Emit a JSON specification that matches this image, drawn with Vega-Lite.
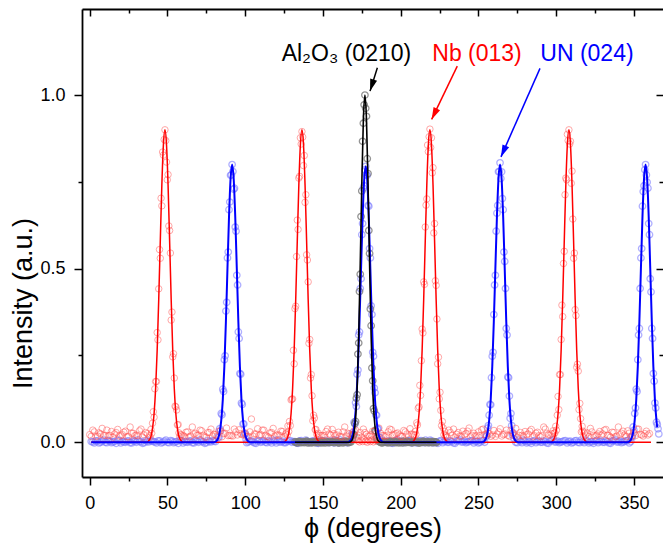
{
"$schema": "https://vega.github.io/schema/vega-lite/v6.json",
"width": 581,
"height": 468,
"autosize": {"type": "none"},
"padding": {"left": 82, "top": 9, "right": 0, "bottom": 72},
"background": "white",
"config": {
  "font": "Liberation Sans",
  "view": {"stroke": null},
  "axis": {"grid": false, "domainColor": "black", "tickColor": "black", "labelColor": "black", "titleColor": "black", "labelFontSize": 18, "titleFontSize": 27, "titleFontWeight": "normal", "labelFont": "Liberation Sans", "titleFont": "Liberation Sans", "domainWidth": 1.8, "tickWidth": 1.5, "labelPadding": 9, "labelOverlap": false, "labelFlush": false}
},
"datasets": {
  "nb": [
    {"x":0,"y":0.022},{"x":2,"y":0.035},{"x":4,"y":0.017},{"x":6,"y":0.027},{"x":8,"y":0.04},{"x":10,"y":0.02},{"x":12,"y":0.019},{"x":14,"y":0.031},{"x":16,"y":0.024},{"x":18,"y":0.037},{"x":20,"y":0.019},{"x":22,"y":0.029},{"x":24,"y":0.016},{"x":26,"y":0.044},{"x":28,"y":0.026},{"x":30,"y":0.021},{"x":32,"y":0.033},{"x":34,"y":0.015},{"x":36,"y":0.028},
    {"x":1,"y":0.017},{"x":3,"y":0.03},{"x":5,"y":0.018},{"x":7,"y":0.024},{"x":9,"y":0.02},{"x":11,"y":0.035},{"x":13,"y":0.02},{"x":15,"y":0.015},{"x":17,"y":0.028},{"x":19,"y":0.018},{"x":21,"y":0.022},{"x":23,"y":0.032},{"x":25,"y":0.016},{"x":27,"y":0.026},{"x":29,"y":0.019},{"x":31,"y":0.019},{"x":33,"y":0.038},{"x":35,"y":0.021},{"x":37,"y":0.025},
    {"x":38.4,"y":0.019},{"x":38.9,"y":0.015},{"x":39.4,"y":0.037},{"x":39.9,"y":0.026},{"x":40.4,"y":0.055},{"x":40.9,"y":0.088},{"x":41.4,"y":0.072},{"x":41.9,"y":0.154},{"x":42.4,"y":0.175},{"x":42.9,"y":0.175},{"x":43.4,"y":0.316},{"x":43.9,"y":0.295},{"x":44.4,"y":0.442},{"x":44.9,"y":0.555},{"x":45.4,"y":0.53},{"x":45.9,"y":0.703},{"x":46.4,"y":0.681},{"x":46.9,"y":0.836},{"x":47.4,"y":0.827},{"x":47.9,"y":0.872},{"x":48.4,"y":0.9},{"x":48.9,"y":0.869},{"x":49.4,"y":0.807},{"x":49.9,"y":0.756},{"x":50.4,"y":0.771},{"x":50.9,"y":0.623},{"x":51.4,"y":0.61},{"x":51.9,"y":0.545},{"x":52.4,"y":0.352},{"x":52.9,"y":0.375},{"x":53.4,"y":0.246},{"x":53.9,"y":0.255},{"x":54.4,"y":0.185},{"x":54.9,"y":0.104},{"x":55.4,"y":0.102},{"x":55.9,"y":0.093},{"x":56.4,"y":0.05},{"x":56.9,"y":0.051},{"x":57.4,"y":0.027},{"x":57.9,"y":0.016},{"x":58.4,"y":0.022},
    {"x":60,"y":0.019},{"x":62,"y":0.029},{"x":64,"y":0.016},{"x":66,"y":0.044},{"x":68,"y":0.026},{"x":70,"y":0.021},{"x":72,"y":0.033},{"x":74,"y":0.015},{"x":76,"y":0.028},{"x":78,"y":0.038},{"x":80,"y":0.023},{"x":82,"y":0.018},{"x":84,"y":0.032},{"x":86,"y":0.025},{"x":88,"y":0.041},{"x":90,"y":0.02},{"x":92,"y":0.018},{"x":94,"y":0.03},{"x":96,"y":0.036},{"x":98,"y":0.022},{"x":100,"y":0.027},{"x":102,"y":0.017},{"x":104,"y":0.067},{"x":106,"y":0.024},{"x":108,"y":0.039},{"x":110,"y":0.022},{"x":112,"y":0.035},{"x":114,"y":0.017},{"x":116,"y":0.027},{"x":118,"y":0.04},{"x":120,"y":0.02},{"x":122,"y":0.02},{"x":124,"y":0.031},{"x":126,"y":0.024},
    {"x":59,"y":0.021},{"x":61,"y":0.017},{"x":63,"y":0.03},{"x":65,"y":0.018},{"x":67,"y":0.024},{"x":69,"y":0.02},{"x":71,"y":0.035},{"x":73,"y":0.02},{"x":75,"y":0.015},{"x":77,"y":0.028},{"x":79,"y":0.018},{"x":81,"y":0.022},{"x":83,"y":0.032},{"x":85,"y":0.016},{"x":87,"y":0.026},{"x":89,"y":0.019},{"x":91,"y":0.019},{"x":93,"y":0.038},{"x":95,"y":0.021},{"x":97,"y":0.025},{"x":99,"y":0.021},{"x":101,"y":0.017},{"x":103,"y":0.03},{"x":105,"y":0.018},{"x":107,"y":0.024},{"x":109,"y":0.02},{"x":111,"y":0.035},{"x":113,"y":0.02},{"x":115,"y":0.015},{"x":117,"y":0.028},{"x":119,"y":0.018},{"x":121,"y":0.022},{"x":123,"y":0.032},{"x":125,"y":0.016},
    {"x":126.5,"y":0.027},{"x":127,"y":0.021},{"x":127.5,"y":0.047},{"x":128,"y":0.031},{"x":128.5,"y":0.06},{"x":129,"y":0.048},{"x":129.5,"y":0.122},{"x":130,"y":0.124},{"x":130.5,"y":0.125},{"x":131,"y":0.265},{"x":131.5,"y":0.226},{"x":132,"y":0.385},{"x":132.5,"y":0.392},{"x":133,"y":0.535},{"x":133.5,"y":0.64},{"x":134,"y":0.613},{"x":134.5,"y":0.761},{"x":135,"y":0.766},{"x":135.5,"y":0.877},{"x":136,"y":0.859},{"x":136.5,"y":0.895},{"x":137,"y":0.879},{"x":137.5,"y":0.797},{"x":138,"y":0.826},{"x":138.5,"y":0.691},{"x":139,"y":0.713},{"x":139.5,"y":0.54},{"x":140,"y":0.525},{"x":140.5,"y":0.462},{"x":141,"y":0.285},{"x":141.5,"y":0.296},{"x":142,"y":0.185},{"x":142.5,"y":0.195},{"x":143,"y":0.134},{"x":143.5,"y":0.062},{"x":144,"y":0.078},{"x":144.5,"y":0.07},{"x":145,"y":0.036},{"x":145.5,"y":0.037},{"x":146,"y":0.023},{"x":146.5,"y":0.015},
    {"x":148,"y":0.02},{"x":150,"y":0.02},{"x":152,"y":0.031},{"x":154,"y":0.024},{"x":156,"y":0.037},{"x":158,"y":0.019},{"x":160,"y":0.029},{"x":162,"y":0.016},{"x":164,"y":0.044},{"x":166,"y":0.026},{"x":168,"y":0.021},{"x":170,"y":0.033},{"x":172,"y":0.015},{"x":174,"y":0.028},{"x":176,"y":0.038},{"x":178,"y":0.023},{"x":180,"y":0.018},{"x":182,"y":0.032},{"x":184,"y":0.025},{"x":186,"y":0.041},{"x":188,"y":0.02},{"x":190,"y":0.018},{"x":192,"y":0.03},{"x":194,"y":0.036},{"x":196,"y":0.022},{"x":198,"y":0.027},{"x":200,"y":0.017},{"x":202,"y":0.034},{"x":204,"y":0.024},{"x":206,"y":0.039},{"x":208,"y":0.022},
    {"x":147,"y":0.026},{"x":149,"y":0.019},{"x":151,"y":0.019},{"x":153,"y":0.038},{"x":155,"y":0.021},{"x":157,"y":0.025},{"x":159,"y":0.021},{"x":161,"y":0.017},{"x":163,"y":0.03},{"x":165,"y":0.018},{"x":167,"y":0.024},{"x":169,"y":0.02},{"x":171,"y":0.035},{"x":173,"y":0.02},{"x":175,"y":0.015},{"x":177,"y":0.028},{"x":179,"y":0.018},{"x":181,"y":0.022},{"x":183,"y":0.032},{"x":185,"y":0.016},{"x":187,"y":0.026},{"x":189,"y":0.019},{"x":191,"y":0.019},{"x":193,"y":0.038},{"x":195,"y":0.021},{"x":197,"y":0.025},{"x":199,"y":0.021},{"x":201,"y":0.017},{"x":203,"y":0.03},{"x":205,"y":0.018},{"x":207,"y":0.024},
    {"x":172.5,"y":0.004},{"x":173.5,"y":0.001},{"x":174.5,"y":0.006},{"x":175.5,"y":0.002},{"x":176.5,"y":0.008},{"x":177.5,"y":0.003},{"x":178.5,"y":0},{"x":179.5,"y":0.005},{"x":180.5,"y":0.002},{"x":181.5,"y":0.007},{"x":182.5,"y":0.001},{"x":183.5,"y":0.004},
    {"x":208.8,"y":0.02},{"x":209.3,"y":0.031},{"x":209.8,"y":0.022},{"x":210.3,"y":0.056},{"x":210.8,"y":0.05},{"x":211.3,"y":0.098},{"x":211.8,"y":0.102},{"x":212.3,"y":0.164},{"x":212.8,"y":0.135},{"x":213.3,"y":0.235},{"x":213.8,"y":0.326},{"x":214.3,"y":0.315},{"x":214.8,"y":0.462},{"x":215.3,"y":0.455},{"x":215.8,"y":0.62},{"x":216.3,"y":0.683},{"x":216.8,"y":0.701},{"x":217.3,"y":0.856},{"x":217.8,"y":0.837},{"x":218.3,"y":0.88},{"x":218.8,"y":0.902},{"x":219.3,"y":0.849},{"x":219.8,"y":0.877},{"x":220.3,"y":0.776},{"x":220.8,"y":0.791},{"x":221.3,"y":0.603},{"x":221.8,"y":0.63},{"x":222.3,"y":0.465},{"x":222.8,"y":0.452},{"x":223.3,"y":0.355},{"x":223.8,"y":0.226},{"x":224.3,"y":0.245},{"x":224.8,"y":0.125},{"x":225.3,"y":0.144},{"x":225.8,"y":0.092},{"x":226.3,"y":0.048},{"x":226.8,"y":0.06},{"x":227.3,"y":0.041},{"x":227.8,"y":0.022},{"x":228.3,"y":0.031},{"x":228.8,"y":0.017},
    {"x":230,"y":0.015},{"x":232,"y":0.028},{"x":234,"y":0.038},{"x":236,"y":0.023},{"x":238,"y":0.018},{"x":240,"y":0.032},{"x":242,"y":0.025},{"x":244,"y":0.041},{"x":246,"y":0.02},{"x":248,"y":0.018},{"x":250,"y":0.03},{"x":252,"y":0.036},{"x":254,"y":0.022},{"x":256,"y":0.027},{"x":258,"y":0.017},{"x":260,"y":0.034},{"x":262,"y":0.024},{"x":264,"y":0.039},{"x":266,"y":0.022},{"x":268,"y":0.035},{"x":270,"y":0.017},{"x":272,"y":0.027},{"x":274,"y":0.04},{"x":276,"y":0.02},{"x":278,"y":0.02},{"x":280,"y":0.031},{"x":282,"y":0.024},{"x":284,"y":0.037},{"x":286,"y":0.019},{"x":288,"y":0.029},{"x":290,"y":0.016},{"x":292,"y":0.044},{"x":294,"y":0.026},{"x":296,"y":0.021},{"x":298,"y":0.033},
    {"x":229,"y":0.02},{"x":231,"y":0.035},{"x":233,"y":0.02},{"x":235,"y":0.015},{"x":237,"y":0.028},{"x":239,"y":0.018},{"x":241,"y":0.022},{"x":243,"y":0.032},{"x":245,"y":0.016},{"x":247,"y":0.026},{"x":249,"y":0.019},{"x":251,"y":0.019},{"x":253,"y":0.038},{"x":255,"y":0.021},{"x":257,"y":0.025},{"x":259,"y":0.021},{"x":261,"y":0.017},{"x":263,"y":0.03},{"x":265,"y":0.018},{"x":267,"y":0.024},{"x":269,"y":0.02},{"x":271,"y":0.035},{"x":273,"y":0.02},{"x":275,"y":0.015},{"x":277,"y":0.028},{"x":279,"y":0.018},{"x":281,"y":0.022},{"x":283,"y":0.032},{"x":285,"y":0.016},{"x":287,"y":0.026},{"x":289,"y":0.019},{"x":291,"y":0.019},{"x":293,"y":0.038},{"x":295,"y":0.021},{"x":297,"y":0.025},
    {"x":298.2,"y":0.015},{"x":298.7,"y":0.026},{"x":299.2,"y":0.027},{"x":299.7,"y":0.046},{"x":300.2,"y":0.035},{"x":300.7,"y":0.078},{"x":301.2,"y":0.132},{"x":301.7,"y":0.094},{"x":302.2,"y":0.195},{"x":302.7,"y":0.195},{"x":303.2,"y":0.296},{"x":303.7,"y":0.395},{"x":304.2,"y":0.362},{"x":304.7,"y":0.515},{"x":305.2,"y":0.55},{"x":305.7,"y":0.713},{"x":306.2,"y":0.761},{"x":306.7,"y":0.756},{"x":307.2,"y":0.887},{"x":307.7,"y":0.869},{"x":308.2,"y":0.9},{"x":308.7,"y":0.859},{"x":309.2,"y":0.867},{"x":309.7,"y":0.746},{"x":310.2,"y":0.781},{"x":310.7,"y":0.643},{"x":311.2,"y":0.53},{"x":311.7,"y":0.545},{"x":312.2,"y":0.382},{"x":312.7,"y":0.365},{"x":313.2,"y":0.216},{"x":313.7,"y":0.225},{"x":314.2,"y":0.205},{"x":314.7,"y":0.094},{"x":315.2,"y":0.112},{"x":315.7,"y":0.068},{"x":316.2,"y":0.03},{"x":316.7,"y":0.046},{"x":317.2,"y":0.032},{"x":317.7,"y":0.016},{"x":318.2,"y":0.027},
    {"x":320,"y":0.027},{"x":322,"y":0.04},{"x":324,"y":0.02},{"x":326,"y":0.02},{"x":328,"y":0.031},{"x":330,"y":0.024},{"x":332,"y":0.037},{"x":334,"y":0.019},{"x":336,"y":0.029},{"x":338,"y":0.016},{"x":340,"y":0.044},{"x":342,"y":0.026},{"x":344,"y":0.021},{"x":346,"y":0.033},{"x":348,"y":0.015},{"x":350,"y":0.028},{"x":352,"y":0.038},{"x":354,"y":0.023},{"x":356,"y":0.018},{"x":358,"y":0.032},{"x":360,"y":0.025},
    {"x":319,"y":0.021},{"x":321,"y":0.017},{"x":323,"y":0.03},{"x":325,"y":0.018},{"x":327,"y":0.024},{"x":329,"y":0.02},{"x":331,"y":0.035},{"x":333,"y":0.02},{"x":335,"y":0.015},{"x":337,"y":0.028},{"x":339,"y":0.018},{"x":341,"y":0.022},{"x":343,"y":0.032},{"x":345,"y":0.016},{"x":347,"y":0.026},{"x":349,"y":0.019},{"x":351,"y":0.019},{"x":353,"y":0.038},{"x":355,"y":0.021},{"x":357,"y":0.025},{"x":359,"y":0.021}
  ],
  "un": [
    {"x":1,"y":0.002},{"x":3,"y":-0.002},{"x":5,"y":0.004},{"x":7,"y":0},{"x":9,"y":0.006},{"x":11,"y":-0.001},{"x":13,"y":0.003},{"x":15,"y":0.001},{"x":17,"y":-0.003},{"x":19,"y":0.005},{"x":21,"y":0.002},{"x":23,"y":0},{"x":25,"y":0.004},{"x":27,"y":-0.002},{"x":29,"y":0.003},{"x":31,"y":0.007},{"x":33,"y":0.001},{"x":35,"y":-0.001},{"x":37,"y":0.002},{"x":39,"y":0.005},{"x":41,"y":0.002},{"x":43,"y":-0.002},{"x":45,"y":0.004},{"x":47,"y":0},{"x":49,"y":0.006},{"x":51,"y":-0.001},{"x":53,"y":0.003},{"x":55,"y":0.001},{"x":57,"y":-0.003},{"x":59,"y":0.005},{"x":61,"y":0.002},{"x":63,"y":0},{"x":65,"y":0.004},{"x":67,"y":-0.002},{"x":69,"y":0.003},{"x":71,"y":0.007},{"x":73,"y":0.001},{"x":75,"y":-0.001},{"x":77,"y":0.002},{"x":79,"y":0.005},{"x":81,"y":0.002},
    {"x":2,"y":0.001},{"x":4,"y":0.004},{"x":6,"y":-0.002},{"x":8,"y":0.003},{"x":10,"y":0},{"x":12,"y":0.005},{"x":14,"y":-0.001},{"x":16,"y":0.002},{"x":18,"y":0.006},{"x":20,"y":-0.002},{"x":22,"y":0.001},{"x":24,"y":0.003},{"x":26,"y":-0.001},{"x":28,"y":0.004},{"x":30,"y":0},{"x":32,"y":0.002},{"x":34,"y":-0.003},{"x":36,"y":0.005},{"x":38,"y":0.001},{"x":40,"y":0.003},{"x":42,"y":0.001},{"x":44,"y":0.004},{"x":46,"y":-0.002},{"x":48,"y":0.003},{"x":50,"y":0},{"x":52,"y":0.005},{"x":54,"y":-0.001},{"x":56,"y":0.002},{"x":58,"y":0.006},{"x":60,"y":-0.002},{"x":62,"y":0.001},{"x":64,"y":0.003},{"x":66,"y":-0.001},{"x":68,"y":0.004},{"x":70,"y":0},{"x":72,"y":0.002},{"x":74,"y":-0.003},{"x":76,"y":0.005},{"x":78,"y":0.001},{"x":80,"y":0.003},
    {"x":82.6,"y":0.015},{"x":83.1,"y":0.014},{"x":83.6,"y":0.039},{"x":84.1,"y":0.033},{"x":84.6,"y":0.083},{"x":85.1,"y":0.079},{"x":85.6,"y":0.153},{"x":86.1,"y":0.146},{"x":86.6,"y":0.238},{"x":87.1,"y":0.249},{"x":87.6,"y":0.378},{"x":88.1,"y":0.403},{"x":88.6,"y":0.531},{"x":89.1,"y":0.548},{"x":89.6,"y":0.67},{"x":90.1,"y":0.692},{"x":90.6,"y":0.769},{"x":91.1,"y":0.77},{"x":91.6,"y":0.8},{"x":92.1,"y":0.78},{"x":92.6,"y":0.729},{"x":93.1,"y":0.732},{"x":93.6,"y":0.62},{"x":94.1,"y":0.608},{"x":94.6,"y":0.481},{"x":95.1,"y":0.453},{"x":95.6,"y":0.318},{"x":96.1,"y":0.299},{"x":96.6,"y":0.198},{"x":97.1,"y":0.196},{"x":97.6,"y":0.113},{"x":98.1,"y":0.109},{"x":98.6,"y":0.053},{"x":99.1,"y":0.053},{"x":99.6,"y":0.024},{"x":100.1,"y":0.024},{"x":100.6,"y":0.008},
    {"x":101,"y":-0.001},{"x":103,"y":0.003},{"x":105,"y":0.001},{"x":107,"y":-0.003},{"x":109,"y":0.005},{"x":111,"y":0.002},{"x":113,"y":0},{"x":115,"y":0.004},{"x":117,"y":-0.002},{"x":119,"y":0.003},{"x":121,"y":0.007},{"x":123,"y":0.001},{"x":125,"y":-0.001},{"x":127,"y":0.002},{"x":129,"y":0.005},{"x":131,"y":0.002},{"x":133,"y":-0.002},{"x":135,"y":0.004},{"x":137,"y":0},{"x":139,"y":0.006},{"x":141,"y":-0.001},{"x":143,"y":0.003},{"x":145,"y":0.001},{"x":147,"y":-0.003},{"x":149,"y":0.005},{"x":151,"y":0.002},{"x":153,"y":0},{"x":155,"y":0.004},{"x":157,"y":-0.002},{"x":159,"y":0.003},{"x":161,"y":0.007},{"x":163,"y":0.001},{"x":165,"y":-0.001},{"x":167,"y":0.002},
    {"x":102,"y":0.001},{"x":104,"y":0.004},{"x":106,"y":-0.002},{"x":108,"y":0.003},{"x":110,"y":0},{"x":112,"y":0.005},{"x":114,"y":-0.001},{"x":116,"y":0.002},{"x":118,"y":0.006},{"x":120,"y":-0.002},{"x":122,"y":0.001},{"x":124,"y":0.003},{"x":126,"y":-0.001},{"x":128,"y":0.004},{"x":130,"y":0},{"x":132,"y":0.002},{"x":134,"y":-0.003},{"x":136,"y":0.005},{"x":138,"y":0.001},{"x":140,"y":0.003},{"x":142,"y":0.001},{"x":144,"y":0.004},{"x":146,"y":-0.002},{"x":148,"y":0.003},{"x":150,"y":0},{"x":152,"y":0.005},{"x":154,"y":-0.001},{"x":156,"y":0.002},{"x":158,"y":0.006},{"x":160,"y":-0.002},{"x":162,"y":0.001},{"x":164,"y":0.003},{"x":166,"y":-0.001},
    {"x":168.5,"y":0.012},{"x":169,"y":0.027},{"x":169.5,"y":0.023},{"x":170,"y":0.058},{"x":170.5,"y":0.053},{"x":171,"y":0.114},{"x":171.5,"y":0.103},{"x":172,"y":0.196},{"x":172.5,"y":0.208},{"x":173,"y":0.309},{"x":173.5,"y":0.318},{"x":174,"y":0.443},{"x":174.5,"y":0.471},{"x":175,"y":0.598},{"x":175.5,"y":0.63},{"x":176,"y":0.732},{"x":176.5,"y":0.739},{"x":177,"y":0.785},{"x":177.5,"y":0.795},{"x":178,"y":0.77},{"x":178.5,"y":0.769},{"x":179,"y":0.682},{"x":179.5,"y":0.68},{"x":180,"y":0.558},{"x":180.5,"y":0.531},{"x":181,"y":0.393},{"x":181.5,"y":0.368},{"x":182,"y":0.259},{"x":182.5,"y":0.248},{"x":183,"y":0.156},{"x":183.5,"y":0.143},{"x":184,"y":0.079},{"x":184.5,"y":0.078},{"x":185,"y":0.038},{"x":185.5,"y":0.039},{"x":186,"y":0.015},{"x":186.5,"y":0.014},
    {"x":188,"y":0.002},{"x":190,"y":0},{"x":192,"y":0.004},{"x":194,"y":-0.002},{"x":196,"y":0.003},{"x":198,"y":0.007},{"x":200,"y":0.001},{"x":202,"y":-0.001},{"x":204,"y":0.002},{"x":206,"y":0.005},{"x":208,"y":0.002},{"x":210,"y":-0.002},{"x":212,"y":0.004},{"x":214,"y":0},{"x":216,"y":0.006},{"x":218,"y":-0.001},{"x":220,"y":0.003},{"x":222,"y":0.001},{"x":224,"y":-0.003},{"x":226,"y":0.005},{"x":228,"y":0.002},{"x":230,"y":0},{"x":232,"y":0.004},{"x":234,"y":-0.002},{"x":236,"y":0.003},{"x":238,"y":0.007},{"x":240,"y":0.001},{"x":242,"y":-0.001},{"x":244,"y":0.002},{"x":246,"y":0.005},{"x":248,"y":0.002},{"x":250,"y":-0.002},{"x":252,"y":0.004},{"x":254,"y":0},
    {"x":189,"y":0.004},{"x":191,"y":0},{"x":193,"y":0.002},{"x":195,"y":-0.003},{"x":197,"y":0.005},{"x":199,"y":0.001},{"x":201,"y":0.003},{"x":203,"y":0.001},{"x":205,"y":0.004},{"x":207,"y":-0.002},{"x":209,"y":0.003},{"x":211,"y":0},{"x":213,"y":0.005},{"x":215,"y":-0.001},{"x":217,"y":0.002},{"x":219,"y":0.006},{"x":221,"y":-0.002},{"x":223,"y":0.001},{"x":225,"y":0.003},{"x":227,"y":-0.001},{"x":229,"y":0.004},{"x":231,"y":0},{"x":233,"y":0.002},{"x":235,"y":-0.003},{"x":237,"y":0.005},{"x":239,"y":0.001},{"x":241,"y":0.003},{"x":243,"y":0.001},{"x":245,"y":0.004},{"x":247,"y":-0.002},{"x":249,"y":0.003},{"x":251,"y":0},{"x":253,"y":0.005},
    {"x":254.9,"y":0.017},{"x":255.4,"y":0.019},{"x":255.9,"y":0.041},{"x":256.4,"y":0.048},{"x":256.9,"y":0.078},{"x":257.4,"y":0.109},{"x":257.9,"y":0.108},{"x":258.4,"y":0.186},{"x":258.9,"y":0.248},{"x":259.4,"y":0.259},{"x":259.9,"y":0.368},{"x":260.4,"y":0.453},{"x":260.9,"y":0.481},{"x":261.4,"y":0.608},{"x":261.9,"y":0.66},{"x":262.4,"y":0.682},{"x":262.9,"y":0.779},{"x":263.4,"y":0.78},{"x":263.9,"y":0.805},{"x":264.4,"y":0.76},{"x":264.9,"y":0.779},{"x":265.4,"y":0.702},{"x":265.9,"y":0.67},{"x":266.4,"y":0.548},{"x":266.9,"y":0.521},{"x":267.4,"y":0.443},{"x":267.9,"y":0.328},{"x":268.4,"y":0.309},{"x":268.9,"y":0.188},{"x":269.4,"y":0.186},{"x":269.9,"y":0.133},{"x":270.4,"y":0.069},{"x":270.9,"y":0.083},{"x":271.4,"y":0.048},{"x":271.9,"y":0.021},{"x":272.4,"y":0.027},{"x":272.9,"y":0.01},
    {"x":274,"y":0},{"x":276,"y":0.006},{"x":278,"y":-0.001},{"x":280,"y":0.003},{"x":282,"y":0.001},{"x":284,"y":-0.003},{"x":286,"y":0.005},{"x":288,"y":0.002},{"x":290,"y":0},{"x":292,"y":0.004},{"x":294,"y":-0.002},{"x":296,"y":0.003},{"x":298,"y":0.007},{"x":300,"y":0.001},{"x":302,"y":-0.001},{"x":304,"y":0.002},{"x":306,"y":0.005},{"x":308,"y":0.002},{"x":310,"y":-0.002},{"x":312,"y":0.004},{"x":314,"y":0},{"x":316,"y":0.006},{"x":318,"y":-0.001},{"x":320,"y":0.003},{"x":322,"y":0.001},{"x":324,"y":-0.003},{"x":326,"y":0.005},{"x":328,"y":0.002},{"x":330,"y":0},{"x":332,"y":0.004},{"x":334,"y":-0.002},{"x":336,"y":0.003},{"x":338,"y":0.007},{"x":340,"y":0.001},{"x":342,"y":-0.001},{"x":344,"y":0.002},{"x":346,"y":0.005},{"x":348,"y":0.002},
    {"x":275,"y":-0.001},{"x":277,"y":0.002},{"x":279,"y":0.006},{"x":281,"y":-0.002},{"x":283,"y":0.001},{"x":285,"y":0.003},{"x":287,"y":-0.001},{"x":289,"y":0.004},{"x":291,"y":0},{"x":293,"y":0.002},{"x":295,"y":-0.003},{"x":297,"y":0.005},{"x":299,"y":0.001},{"x":301,"y":0.003},{"x":303,"y":0.001},{"x":305,"y":0.004},{"x":307,"y":-0.002},{"x":309,"y":0.003},{"x":311,"y":0},{"x":313,"y":0.005},{"x":315,"y":-0.001},{"x":317,"y":0.002},{"x":319,"y":0.006},{"x":321,"y":-0.002},{"x":323,"y":0.001},{"x":325,"y":0.003},{"x":327,"y":-0.001},{"x":329,"y":0.004},{"x":331,"y":0},{"x":333,"y":0.002},{"x":335,"y":-0.003},{"x":337,"y":0.005},{"x":339,"y":0.001},{"x":341,"y":0.003},{"x":343,"y":0.001},{"x":345,"y":0.004},{"x":347,"y":-0.002},
    {"x":348.5,"y":0.016},{"x":349,"y":0.015},{"x":349.5,"y":0.044},{"x":350,"y":0.035},{"x":350.5,"y":0.083},{"x":351,"y":0.099},{"x":351.5,"y":0.153},{"x":352,"y":0.146},{"x":352.5,"y":0.238},{"x":353,"y":0.309},{"x":353.5,"y":0.328},{"x":354,"y":0.443},{"x":354.5,"y":0.531},{"x":355,"y":0.558},{"x":355.5,"y":0.68},{"x":356,"y":0.722},{"x":356.5,"y":0.739},{"x":357,"y":0.785},{"x":357.5,"y":0.8},{"x":358,"y":0.77},{"x":358.5,"y":0.749},{"x":359,"y":0.732},{"x":359.5,"y":0.63},{"x":360,"y":0.598},{"x":360.5,"y":0.471},{"x":361,"y":0.433},{"x":361.5,"y":0.328},{"x":362,"y":0.299},{"x":362.5,"y":0.198},{"x":363,"y":0.176},{"x":363.5,"y":0.113},{"x":364,"y":0.099},{"x":364.5,"y":0.058},{"x":365,"y":0.051},{"x":365.5,"y":0.039},{"x":366,"y":0.024}
  ],
  "al": [
    {"x":132,"y":0.001},{"x":133.5,"y":-0.002},{"x":135,"y":0.002},{"x":136.5,"y":0},{"x":138,"y":-0.001},{"x":139.5,"y":0.003},{"x":141,"y":0},{"x":142.5,"y":-0.002},{"x":144,"y":0.001},{"x":145.5,"y":0.002},{"x":147,"y":-0.001},{"x":148.5,"y":0},{"x":150,"y":0.003},{"x":151.5,"y":-0.002},{"x":153,"y":0.001},{"x":154.5,"y":0},{"x":156,"y":0.002},{"x":157.5,"y":-0.001},{"x":159,"y":0.001},{"x":160.5,"y":-0.002},{"x":162,"y":0.002},{"x":163.5,"y":0},{"x":165,"y":0.003},{"x":166.5,"y":-0.001},{"x":168,"y":0.001},
    {"x":132.75,"y":0},{"x":134.25,"y":0.002},{"x":135.75,"y":-0.001},{"x":137.25,"y":0.001},{"x":138.75,"y":0.002},{"x":140.25,"y":-0.002},{"x":141.75,"y":0.001},{"x":143.25,"y":0},{"x":144.75,"y":-0.001},{"x":146.25,"y":0.002},{"x":147.75,"y":0.001},{"x":149.25,"y":-0.002},{"x":150.75,"y":0},{"x":152.25,"y":0.002},{"x":153.75,"y":-0.001},{"x":155.25,"y":0.001},{"x":156.75,"y":0},{"x":158.25,"y":0.003},{"x":159.75,"y":-0.001},{"x":161.25,"y":0.001},{"x":162.75,"y":-0.002},{"x":164.25,"y":0.002},{"x":165.75,"y":0},{"x":167.25,"y":0.001},
    {"x":169,"y":0.009},{"x":169.5,"y":0.021},{"x":170,"y":0.022},{"x":170.5,"y":0.054},{"x":171,"y":0.06},{"x":171.5,"y":0.127},{"x":172,"y":0.137},{"x":172.5,"y":0.254},{"x":173,"y":0.286},{"x":173.5,"y":0.434},{"x":174,"y":0.484},{"x":174.5,"y":0.65},{"x":175,"y":0.724},{"x":175.5,"y":0.867},{"x":176,"y":0.919},{"x":176.5,"y":0.972},{"x":177,"y":1.0},{"x":177.5,"y":0.962},{"x":178,"y":0.939},{"x":178.5,"y":0.817},{"x":179,"y":0.774},{"x":179.5,"y":0.61},{"x":180,"y":0.544},{"x":180.5,"y":0.384},{"x":181,"y":0.336},{"x":181.5,"y":0.214},{"x":182,"y":0.177},{"x":182.5,"y":0.097},{"x":183,"y":0.09},{"x":183.5,"y":0.034},{"x":184,"y":0.032},{"x":184.5,"y":0.012},{"x":185,"y":0.005},
    {"x":186,"y":0.002},{"x":187.5,"y":-0.001},{"x":189,"y":0.001},{"x":190.5,"y":0},{"x":192,"y":-0.002},{"x":193.5,"y":0.003},{"x":195,"y":0.001},{"x":196.5,"y":-0.001},{"x":198,"y":0.002},{"x":199.5,"y":0},{"x":201,"y":-0.002},{"x":202.5,"y":0.001},{"x":204,"y":0.003},{"x":205.5,"y":0},{"x":207,"y":-0.001},{"x":208.5,"y":0.002},{"x":210,"y":0},{"x":211.5,"y":-0.002},{"x":213,"y":0.001},{"x":214.5,"y":0.003},{"x":216,"y":-0.001},{"x":217.5,"y":0},{"x":219,"y":0.002},{"x":220.5,"y":-0.001},{"x":222,"y":0.001},{"x":223,"y":0},
    {"x":186.75,"y":0.001},{"x":188.25,"y":-0.002},{"x":189.75,"y":0.002},{"x":191.25,"y":0},{"x":192.75,"y":0.001},{"x":194.25,"y":-0.001},{"x":195.75,"y":0.002},{"x":197.25,"y":0},{"x":198.75,"y":-0.002},{"x":200.25,"y":0.001},{"x":201.75,"y":0.003},{"x":203.25,"y":-0.001},{"x":204.75,"y":0},{"x":206.25,"y":0.002},{"x":207.75,"y":-0.001},{"x":209.25,"y":0.001},{"x":210.75,"y":0.002},{"x":212.25,"y":-0.002},{"x":213.75,"y":0},{"x":215.25,"y":0.001},{"x":216.75,"y":0.002},{"x":218.25,"y":-0.001},{"x":219.75,"y":0},{"x":221.25,"y":0.002},{"x":222.75,"y":-0.001}
  ],
  "nbfit": [
    {"x":1,"y":0},{"x":36.4,"y":0},{"x":37.4,"y":0.002},{"x":38.4,"y":0.007},{"x":39.4,"y":0.017},{"x":40.4,"y":0.04},{"x":41.4,"y":0.082},{"x":42.4,"y":0.155},{"x":43.4,"y":0.266},{"x":44.4,"y":0.412},{"x":45.4,"y":0.58},{"x":46.4,"y":0.741},{"x":47.4,"y":0.857},{"x":48.4,"y":0.9},{"x":49.4,"y":0.857},{"x":50.4,"y":0.741},{"x":51.4,"y":0.58},{"x":52.4,"y":0.412},{"x":53.4,"y":0.266},{"x":54.4,"y":0.155},{"x":55.4,"y":0.082},{"x":56.4,"y":0.04},{"x":57.4,"y":0.017},{"x":58.4,"y":0.007},{"x":59.4,"y":0.002},{"x":60.4,"y":0},
    {"x":124.5,"y":0},{"x":125.5,"y":0.002},{"x":126.5,"y":0.007},{"x":127.5,"y":0.017},{"x":128.5,"y":0.04},{"x":129.5,"y":0.082},{"x":130.5,"y":0.155},{"x":131.5,"y":0.266},{"x":132.5,"y":0.412},{"x":133.5,"y":0.58},{"x":134.5,"y":0.741},{"x":135.5,"y":0.857},{"x":136.5,"y":0.9},{"x":137.5,"y":0.857},{"x":138.5,"y":0.741},{"x":139.5,"y":0.58},{"x":140.5,"y":0.412},{"x":141.5,"y":0.266},{"x":142.5,"y":0.155},{"x":143.5,"y":0.082},{"x":144.5,"y":0.04},{"x":145.5,"y":0.017},{"x":146.5,"y":0.007},{"x":147.5,"y":0.002},{"x":148.5,"y":0},
    {"x":206.8,"y":0},{"x":207.8,"y":0.002},{"x":208.8,"y":0.007},{"x":209.8,"y":0.017},{"x":210.8,"y":0.04},{"x":211.8,"y":0.082},{"x":212.8,"y":0.155},{"x":213.8,"y":0.266},{"x":214.8,"y":0.412},{"x":215.8,"y":0.58},{"x":216.8,"y":0.741},{"x":217.8,"y":0.857},{"x":218.8,"y":0.9},{"x":219.8,"y":0.857},{"x":220.8,"y":0.741},{"x":221.8,"y":0.58},{"x":222.8,"y":0.412},{"x":223.8,"y":0.266},{"x":224.8,"y":0.155},{"x":225.8,"y":0.082},{"x":226.8,"y":0.04},{"x":227.8,"y":0.017},{"x":228.8,"y":0.007},{"x":229.8,"y":0.002},{"x":230.8,"y":0},
    {"x":296.2,"y":0},{"x":297.2,"y":0.002},{"x":298.2,"y":0.007},{"x":299.2,"y":0.017},{"x":300.2,"y":0.04},{"x":301.2,"y":0.082},{"x":302.2,"y":0.155},{"x":303.2,"y":0.266},{"x":304.2,"y":0.412},{"x":305.2,"y":0.58},{"x":306.2,"y":0.741},{"x":307.2,"y":0.857},{"x":308.2,"y":0.9},{"x":309.2,"y":0.857},{"x":310.2,"y":0.741},{"x":311.2,"y":0.58},{"x":312.2,"y":0.412},{"x":313.2,"y":0.266},{"x":314.2,"y":0.155},{"x":315.2,"y":0.082},{"x":316.2,"y":0.04},{"x":317.2,"y":0.017},{"x":318.2,"y":0.007},{"x":319.2,"y":0.002},{"x":320.2,"y":0},{"x":361,"y":0}
  ],
  "unfit": [
    {"x":1,"y":0},{"x":79.6,"y":0},{"x":80.6,"y":0.001},{"x":81.6,"y":0.004},{"x":82.6,"y":0.012},{"x":83.6,"y":0.029},{"x":84.6,"y":0.063},{"x":85.6,"y":0.123},{"x":86.6,"y":0.218},{"x":87.6,"y":0.348},{"x":88.6,"y":0.501},{"x":89.6,"y":0.65},{"x":90.6,"y":0.759},{"x":91.6,"y":0.8},{"x":92.6,"y":0.759},{"x":93.6,"y":0.65},{"x":94.6,"y":0.501},{"x":95.6,"y":0.348},{"x":96.6,"y":0.218},{"x":97.6,"y":0.123},{"x":98.6,"y":0.063},{"x":99.6,"y":0.029},{"x":100.6,"y":0.012},{"x":101.6,"y":0.004},{"x":102.6,"y":0.001},{"x":103.6,"y":0},
    {"x":165.5,"y":0},{"x":166.5,"y":0.001},{"x":167.5,"y":0.004},{"x":168.5,"y":0.012},{"x":169.5,"y":0.029},{"x":170.5,"y":0.063},{"x":171.5,"y":0.122},{"x":172.5,"y":0.217},{"x":173.5,"y":0.346},{"x":174.5,"y":0.498},{"x":175.5,"y":0.646},{"x":176.5,"y":0.754},{"x":177.5,"y":0.795},{"x":178.5,"y":0.754},{"x":179.5,"y":0.646},{"x":180.5,"y":0.498},{"x":181.5,"y":0.346},{"x":182.5,"y":0.217},{"x":183.5,"y":0.122},{"x":184.5,"y":0.063},{"x":185.5,"y":0.029},{"x":186.5,"y":0.012},{"x":187.5,"y":0.004},{"x":188.5,"y":0.001},{"x":189.5,"y":0},
    {"x":251.9,"y":0},{"x":252.9,"y":0.001},{"x":253.9,"y":0.004},{"x":254.9,"y":0.012},{"x":255.9,"y":0.029},{"x":256.9,"y":0.063},{"x":257.9,"y":0.123},{"x":258.9,"y":0.218},{"x":259.9,"y":0.348},{"x":260.9,"y":0.501},{"x":261.9,"y":0.65},{"x":262.9,"y":0.759},{"x":263.9,"y":0.8},{"x":264.9,"y":0.759},{"x":265.9,"y":0.65},{"x":266.9,"y":0.501},{"x":267.9,"y":0.348},{"x":268.9,"y":0.218},{"x":269.9,"y":0.123},{"x":270.9,"y":0.063},{"x":271.9,"y":0.029},{"x":272.9,"y":0.012},{"x":273.9,"y":0.004},{"x":274.9,"y":0.001},{"x":275.9,"y":0},
    {"x":345.5,"y":0},{"x":346.5,"y":0.001},{"x":347.5,"y":0.004},{"x":348.5,"y":0.012},{"x":349.5,"y":0.029},{"x":350.5,"y":0.063},{"x":351.5,"y":0.123},{"x":352.5,"y":0.218},{"x":353.5,"y":0.348},{"x":354.5,"y":0.501},{"x":355.5,"y":0.65},{"x":356.5,"y":0.759},{"x":357.5,"y":0.8},{"x":358.5,"y":0.759},{"x":359.5,"y":0.65},{"x":360.5,"y":0.501},{"x":361.5,"y":0.348},{"x":362.5,"y":0.218},{"x":363.5,"y":0.123},{"x":364.5,"y":0.063},{"x":365,"y":0.043}
  ],
  "alfit": [
    {"x":132,"y":0},{"x":167,"y":0},{"x":168,"y":0.0025},{"x":169,"y":0.009},{"x":170,"y":0.027},{"x":171,"y":0.07},{"x":172,"y":0.157},{"x":173,"y":0.306},{"x":174,"y":0.514},{"x":175,"y":0.744},{"x":176,"y":0.929},{"x":177,"y":1.0},{"x":178,"y":0.929},{"x":179,"y":0.744},{"x":180,"y":0.514},{"x":181,"y":0.306},{"x":182,"y":0.157},{"x":183,"y":0.07},{"x":184,"y":0.027},{"x":185,"y":0.009},{"x":186,"y":0.0025},{"x":187,"y":0},{"x":223,"y":0}
  ],
  "arrows": [
    {"s":"Al","x":185.0,"y":1.0786,"x2":180.3,"y2":1.0115},
    {"s":"Nb","x":236.4,"y":1.0835,"x2":219.9,"y2":0.93},
    {"s":"UN","x":289.6,"y":1.077,"x2":264.5,"y2":0.822}
  ],
  "labels": [
    {"s":"Al","t":"Al₂O₃ (0210)","x":165.1,"y":1.099},
    {"s":"Nb","t":"Nb (013)","x":249.1,"y":1.099},
    {"s":"UN","t":"UN (024)","x":319.8,"y":1.099}
  ]
},
"resolve": {"axis": {"x": "independent", "y": "independent"}},
"layer": [
  {
    "data": {"name": "un"},
    "mark": {"type": "point", "shape": "circle", "filled": false, "size": 42, "strokeWidth": 1.3, "color": "#7b7bff", "opacity": 0.6},
    "encoding": {
      "x": {"field": "x", "type": "quantitative", "scale": {"domain": [-4.95, 368.7], "nice": false, "zero": false},
        "axis": {"orient": "bottom", "values": [0,25,50,75,100,125,150,175,200,225,250,275,300,325,350], "format": "d",
          "labelExpr": "datum.value % 50 === 0 ? datum.label : ''",
          "tickSize": {"condition": {"test": "datum.value % 50 === 0", "value": 8}, "value": 4},
          "title": "ϕ (degrees)", "titlePadding": 3}},
      "y": {"field": "y", "type": "quantitative", "scale": {"domain": [-0.1, 1.248], "nice": false, "zero": false},
        "axis": {"orient": "left", "values": [0,0.25,0.5,0.75,1], "format": ".1f",
          "labelExpr": "datum.value % 0.5 === 0 ? datum.label : ''",
          "tickSize": {"condition": {"test": "datum.value % 0.5 === 0", "value": 8}, "value": 4},
          "title": "Intensity (a.u.)", "titlePadding": 2, "titleY": 294}}
    }
  },
  {
    "data": {"name": "al"},
    "mark": {"type": "point", "shape": "circle", "filled": false, "size": 42, "strokeWidth": 1.3, "color": "#7a7a7a", "opacity": 0.8},
    "encoding": {
      "x": {"field": "x", "type": "quantitative",
        "axis": {"orient": "top", "values": [0,25,50,75,100,125,150,175,200,225,250,275,300,325,350], "labels": false, "title": null,
          "tickSize": {"condition": {"test": "datum.value % 50 === 0", "value": -7}, "value": -4}}},
      "y": {"field": "y", "type": "quantitative",
        "axis": {"orient": "right", "domain": false, "values": [0,0.25,0.5,0.75,1], "labels": false, "title": null,
          "tickSize": {"condition": {"test": "datum.value % 0.5 === 0", "value": -7}, "value": -4}}}
    }
  },
  {
    "data": {"name": "nb"},
    "mark": {"type": "point", "shape": "circle", "filled": false, "size": 42, "strokeWidth": 1, "color": "#ff5050", "opacity": 0.5},
    "encoding": {
      "x": {"field": "x", "type": "quantitative", "axis": null},
      "y": {"field": "y", "type": "quantitative", "axis": null}
    }
  },
  {
    "data": {"name": "nbfit"},
    "mark": {"type": "line", "color": "#ff0000", "strokeWidth": 1.5, "interpolate": "monotone"},
    "encoding": {
      "x": {"field": "x", "type": "quantitative", "axis": null},
      "y": {"field": "y", "type": "quantitative", "axis": null}
    }
  },
  {
    "data": {"name": "unfit"},
    "mark": {"type": "line", "color": "#0000ff", "strokeWidth": 2, "interpolate": "monotone"},
    "encoding": {
      "x": {"field": "x", "type": "quantitative", "axis": null},
      "y": {"field": "y", "type": "quantitative", "axis": null}
    }
  },
  {
    "data": {"name": "alfit"},
    "mark": {"type": "line", "color": "#000000", "strokeWidth": 1.6, "interpolate": "monotone"},
    "encoding": {
      "x": {"field": "x", "type": "quantitative", "axis": null},
      "y": {"field": "y", "type": "quantitative", "axis": null}
    }
  },
  {
    "data": {"name": "arrows"},
    "mark": {"type": "rule", "strokeWidth": 1.5},
    "encoding": {
      "x": {"field": "x", "type": "quantitative", "axis": null},
      "y": {"field": "y", "type": "quantitative", "axis": null},
      "x2": {"field": "x2"},
      "y2": {"field": "y2"},
      "color": {"field": "s", "type": "nominal", "scale": {"domain": ["Al", "Nb", "UN"], "range": ["#000000", "#ff0000", "#0000ff"]}, "legend": null}
    }
  },
  {
    "data": {"name": "arrows"},
    "transform": [{"filter": "datum.s === 'Al'"}],
    "mark": {"type": "point", "shape": "M0,0L-0.3,-1L0.3,-1Z", "size": 576, "angle": 17.4, "filled": true, "color": "#000000", "opacity": 1, "strokeWidth": 0},
    "encoding": {
      "x": {"field": "x2", "type": "quantitative", "axis": null},
      "y": {"field": "y2", "type": "quantitative", "axis": null}
    }
  },
  {
    "data": {"name": "arrows"},
    "transform": [{"filter": "datum.s === 'Nb'"}],
    "mark": {"type": "point", "shape": "M0,0L-0.3,-1L0.3,-1Z", "size": 576, "angle": 25.7, "filled": true, "color": "#ff0000", "opacity": 1, "strokeWidth": 0},
    "encoding": {
      "x": {"field": "x2", "type": "quantitative", "axis": null},
      "y": {"field": "y2", "type": "quantitative", "axis": null}
    }
  },
  {
    "data": {"name": "arrows"},
    "transform": [{"filter": "datum.s === 'UN'"}],
    "mark": {"type": "point", "shape": "M0,0L-0.3,-1L0.3,-1Z", "size": 576, "angle": 23.7, "filled": true, "color": "#0000ff", "opacity": 1, "strokeWidth": 0},
    "encoding": {
      "x": {"field": "x2", "type": "quantitative", "axis": null},
      "y": {"field": "y2", "type": "quantitative", "axis": null}
    }
  },
  {
    "data": {"name": "labels"},
    "mark": {"type": "text", "fontSize": 23, "font": "Liberation Sans", "align": "center", "baseline": "alphabetic"},
    "encoding": {
      "x": {"field": "x", "type": "quantitative", "axis": null},
      "y": {"field": "y", "type": "quantitative", "axis": null},
      "text": {"field": "t"},
      "color": {"field": "s", "type": "nominal", "legend": null}
    }
  }
]
}
